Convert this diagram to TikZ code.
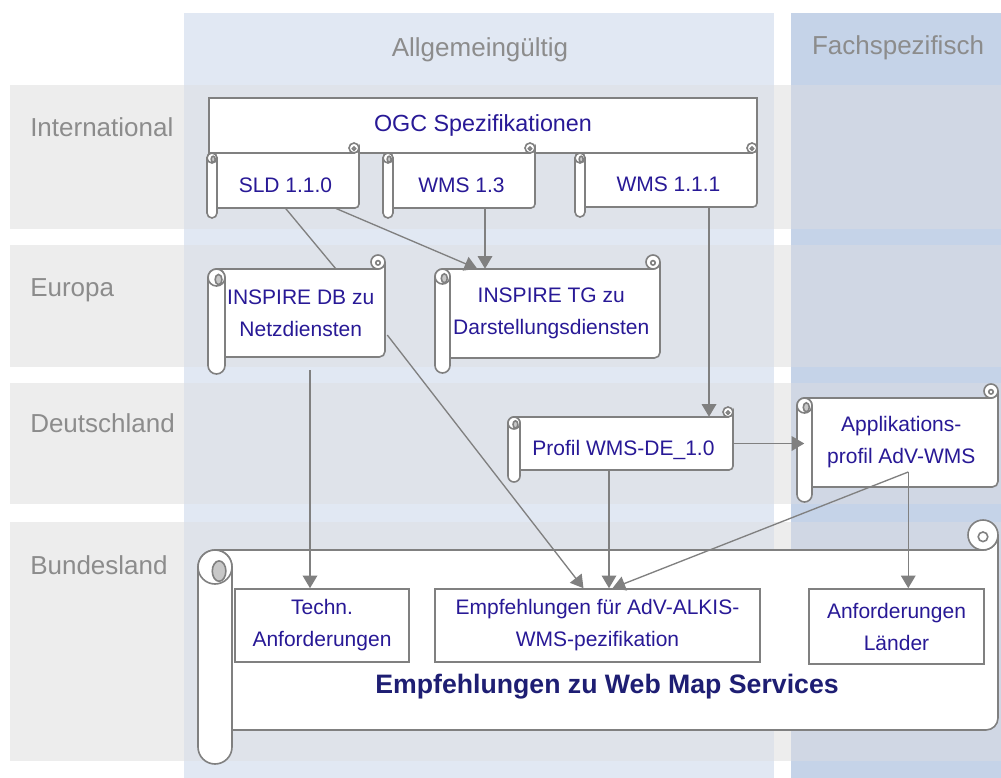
\documentclass[tikz,border=0pt]{standalone}
\usepackage{fontspec}
\setmainfont{Liberation Sans}
\usetikzlibrary{arrows.meta,calc}
\definecolor{colA}{RGB}{225,232,243}
\definecolor{colB}{RGB}{197,211,232}
\definecolor{rowG}{RGB}{237,237,237}
\definecolor{ovA}{RGB}{223,227,234}
\definecolor{ovB}{RGB}{208,215,228}
\definecolor{lineG}{RGB}{128,128,128}
\definecolor{labelG}{RGB}{140,140,140}
\definecolor{txtB}{RGB}{40,25,150}
\definecolor{titleB}{RGB}{30,30,115}
\definecolor{curlG}{RGB}{200,200,200}
\tikzset{
  shapeline/.style={draw=lineG, line width=1.2pt},
  scrolltext/.style={font=\fontsize{15.75}{24}\selectfont, text=txtB, align=center, inner sep=0pt},
  smalltext/.style={text height=17.4pt, text depth=0pt},
  plainbox/.style={shapeline, fill=white, font=\fontsize{15.75}{24}\selectfont, text=txtB, align=center, inner sep=0pt},
  rowlabel/.style={font=\fontsize{19.5}{23}\selectfont, text=labelG, anchor=west, inner sep=0pt},
  collabel/.style={font=\fontsize{19.5}{23}\selectfont, text=labelG, inner sep=0pt},
  conn/.style={draw=lineG, line width=1pt, -{Triangle[length=9.5pt,width=11pt]}}
}
\newcommand\scrollshape[9]{%
  \pgfmathsetmacro\sxa{#3+#7/2}%
  \pgfmathsetmacro\srr{#8*0.8}%
  \draw[shapeline, fill=white] (\sxa,#4) -- ({#5-#8},#4) arc[start angle=90,end angle=0,radius=#8] -- (#5,{#6-\srr}) arc[start angle=0,end angle=90,radius=\srr] -- (\sxa,#6) -- cycle;
  \draw[shapeline, fill=white] ({#5-#8},{#4-#8}) circle[radius=#8];
  \draw[shapeline, fill=white] ({#5-#8},{#4-#8*0.88}) circle[radius={#8*0.32}];
  \draw[shapeline, fill=white, rounded corners={#7*0.375pt}] (#3,#4) rectangle ({#3+#7},{#6+#7});
  \draw[shapeline, fill=white] ({#3+#7/2},{#4+#7/2}) circle[radius={#7/2}];
  \draw[shapeline, fill=curlG] ({#3+#7*0.62},{#4+#7*0.62}) ellipse[x radius={#7*0.2}, y radius={#7*0.3}];
  \node[scrolltext, #1, minimum width={(#5-\sxa)*0.75pt}, minimum height={(#6-#4)*0.75pt}] (#2) at ({(\sxa+#5)/2},{(#4+#6)/2}) {#9};
}
\begin{document}
\begin{tikzpicture}[x=0.75pt, y=-0.75pt]
\useasboundingbox (0,0) rectangle (1001,778);
% columns
\fill[colA] (184,13) rectangle (774,778);
\fill[colB] (791,13) rectangle (1001,778);
% rows
\foreach \ya/\yb in {85/229,245/367,383/504,522/761}{
  \fill[rowG] (10,\ya) rectangle (1001,\yb);
  \fill[ovA] (184,\ya) rectangle (774,\yb);
  \fill[ovB] (791,\ya) rectangle (1001,\yb);
}
% headers and row labels
\node[collabel] (hA) at (480,50) {Allgemeingültig};
\node[collabel] (hB) at (898,48) {Fachspezifisch};
\node[rowlabel] (lInt) at (30,127) {International};
\node[rowlabel] (lEu) at (30,290) {Europa};
\node[rowlabel] (lDe) at (30,423) {Deutschland};
\node[rowlabel] (lBl) at (30,565) {Bundesland};
% OGC box
\node[plainbox, font=\fontsize{17.5}{24}\selectfont, minimum width=548*0.75pt, minimum height=55*0.75pt] (ogc) at (483,125.5) {OGC Spezifikationen};
% scrolls
\scrollshape{smalltext}{sld}{207}{153}{359}{208}{10}{5}{SLD 1.1.0}
\scrollshape{smalltext}{wms13}{383}{153}{535}{208}{10}{5}{WMS 1.3}
\scrollshape{smalltext}{wms111}{575}{153}{757}{207}{10}{5}{WMS 1.1.1}
\scrollshape{}{inspdb}{208}{269}{385}{357}{17}{7}{INSPIRE DB zu\\Netzdiensten}
\scrollshape{}{insptg}{435}{269}{660}{358}{15}{7}{INSPIRE TG zu\\Darstellungsdiensten}
\scrollshape{smalltext}{profil}{508}{417}{733}{470}{12}{5}{Profil WMS-DE\_1.0}
\scrollshape{}{app}{797}{398}{998}{487}{15}{7}{Applikations-\\profil AdV-WMS}
\scrollshape{}{bund}{198}{550}{998}{730}{34}{15}{}
% inner boxes
\node[plainbox, minimum width=174*0.75pt, minimum height=73*0.75pt] (techn) at (322,625.5) {Techn.\\Anforderungen};
\node[plainbox, minimum width=325*0.75pt, minimum height=73*0.75pt] (empf) at (597.5,625.5) {Empfehlungen für AdV-ALKIS-\\WMS-pezifikation};
\node[plainbox, minimum width=175*0.75pt, minimum height=75*0.75pt] (laender) at (896.5,626.5) {Anforderungen\\Länder};
\node[font=\fontsize{20}{24}\selectfont\bfseries, text=titleB, inner sep=0pt] (title) at (607,687) {Empfehlungen zu Web Map Services};
% connectors
\draw[conn, -] (sld.south) -- ($(inspdb.north)+(35,0)$);
\draw[conn] ($(sld.south)+(50,0)$) -- ($(insptg.north)+(-74,0)$);
\draw[conn] ($(wms13.south)+(23.5,0)$) coordinate (c1) -- (c1 |- insptg.north);
\draw[conn] ($(wms111.south)+(40.5,0)$) coordinate (d1) -- (d1 |- profil.north);
\draw[conn] (profil.east) -- (profil.east -| app.west);
\draw[conn] ($(inspdb.east)+(2,22)$) -- ($(empf.north)+(-14,0)$);
\draw[conn] ($(inspdb.south)+(9.25,13)$) coordinate (g1) -- (g1 |- techn.north);
\draw[conn] ($(profil.south)+(-14.5,0)$) coordinate (h1) -- (h1 |- empf.north);
\draw[conn] ($(app.center)+(7,29.5)$) coordinate (i1) -- ($(empf.north)+(15,0)$);
\draw[conn] (i1) -- (i1 |- laender.north);
\end{tikzpicture}
\end{document}
